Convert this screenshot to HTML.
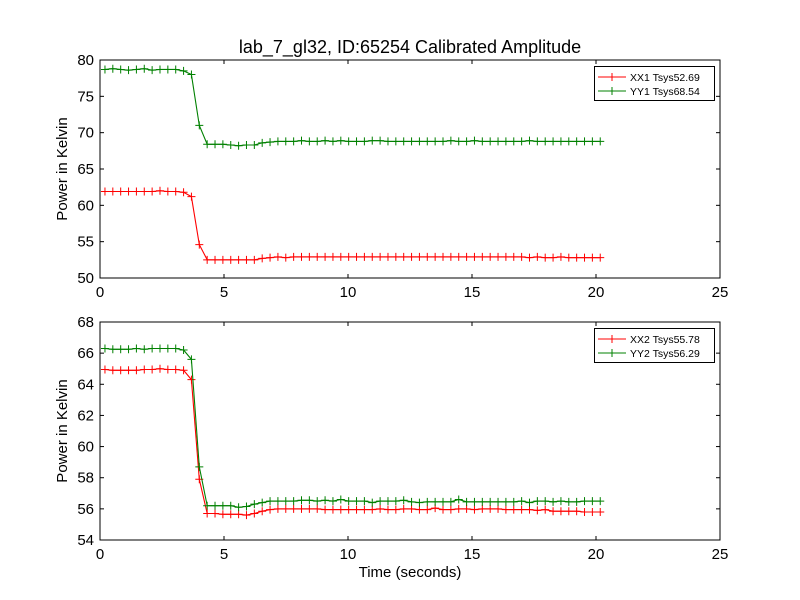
<!DOCTYPE html>
<html><head><meta charset="utf-8"><style>
body{margin:0;background:#fff}
svg{display:block;font-family:"Liberation Sans","DejaVu Sans",sans-serif}
</style></head><body>
<svg id="chart" width="800" height="600" viewBox="0 0 800 600">
<rect width="800" height="600" fill="#fff"/>
<text x="410" y="53" font-size="18" text-anchor="middle">lab_7_gl32, ID:65254 Calibrated Amplitude</text>
<text x="410" y="577" font-size="15" text-anchor="middle">Time (seconds)</text>
</svg>
<script>
const times=[];for(let i=0;i<64;i++)times.push(+(0.2+0.317*i).toFixed(3));
const topXX1=[61.9,61.9,61.9,61.9,61.9,61.9,61.9,62.0,61.9,61.9,61.8,61.2,54.6,52.5,52.5,52.5,52.5,52.5,52.5,52.5,52.7,52.8,52.9,52.8,52.9,52.9,52.9,52.9,52.9,52.9,52.9,52.9,52.9,52.9,52.9,52.9,52.9,52.9,52.9,52.9,52.9,52.9,52.9,52.9,52.9,52.9,52.9,52.9,52.9,52.9,52.9,52.9,52.9,52.9,52.8,52.9,52.8,52.8,52.9,52.8,52.8,52.8,52.8,52.8];
const topYY1=[78.7,78.8,78.7,78.6,78.7,78.8,78.6,78.7,78.7,78.7,78.5,78.0,71.0,68.4,68.4,68.4,68.3,68.2,68.3,68.3,68.6,68.7,68.8,68.8,68.8,68.9,68.8,68.8,68.9,68.8,68.9,68.8,68.8,68.8,68.9,68.9,68.8,68.8,68.8,68.8,68.8,68.8,68.8,68.8,68.9,68.8,68.8,68.9,68.8,68.8,68.8,68.8,68.8,68.8,68.9,68.8,68.8,68.8,68.8,68.8,68.8,68.8,68.8,68.8];
const botXX2=[64.95,64.9,64.9,64.9,64.9,64.95,64.95,65.0,64.95,64.95,64.9,64.3,57.9,55.7,55.7,55.65,55.65,55.65,55.6,55.7,55.85,55.95,56.0,56.0,56.0,56.0,56.0,56.0,55.95,55.95,55.95,55.95,55.95,55.95,55.95,56.0,55.95,55.95,56.0,56.0,55.95,55.95,56.05,55.95,55.95,56.0,56.0,55.95,56.0,56.0,56.0,55.95,55.95,55.95,55.95,55.9,55.95,55.85,55.85,55.85,55.85,55.8,55.8,55.8];
const botYY2=[66.3,66.25,66.25,66.25,66.3,66.25,66.3,66.3,66.3,66.3,66.2,65.6,58.7,56.2,56.2,56.2,56.2,56.1,56.15,56.3,56.4,56.5,56.5,56.5,56.5,56.55,56.55,56.5,56.55,56.5,56.6,56.5,56.5,56.5,56.4,56.5,56.5,56.5,56.55,56.45,56.4,56.45,56.45,56.45,56.45,56.6,56.45,56.45,56.45,56.45,56.45,56.45,56.45,56.5,56.4,56.5,56.5,56.45,56.5,56.45,56.45,56.5,56.5,56.5];
const xTicks=[0,5,10,15,20,25];
const topYTicks=[50,55,60,65,70,75,80];
const botYTicks=[54,56,58,60,62,64,66,68];
const legendTop=["XX1 Tsys52.69","YY1 Tsys68.54"];
const legendBot=["XX2 Tsys55.78","YY2 Tsys56.29"];

const NS="http://www.w3.org/2000/svg";
const svg=document.getElementById('chart');
function mk(tag,attrs,parent){const e=document.createElementNS(NS,tag);for(const k in attrs)e.setAttribute(k,attrs[k]);(parent||svg).appendChild(e);return e;}
function panel(name,top,bottom,ymin,ymax,yTicks,series,labels){
  const L=100,R=720;
  const g=mk('g',{});
  
  
  const sx=v=>L+(v-0)/(25-0)*(R-L);
  const sy=v=>bottom-(v-ymin)/(ymax-ymin)*(bottom-top);
  xTicks.forEach(t=>{const x=sx(t);
    mk('line',{x1:x,x2:x,y1:bottom,y2:bottom-4,stroke:'#000'},g);
    mk('line',{x1:x,x2:x,y1:top,y2:top+4,stroke:'#000'},g);
    const tx=mk('text',{x:x,y:bottom+19,'font-size':15,'text-anchor':'middle'},g);tx.textContent=t;
    
    });
  yTicks.forEach(t=>{const y=sy(t);
    mk('line',{x1:L,x2:L+4,y1:y,y2:y,stroke:'#000'},g);
    mk('line',{x1:R,x2:R-4,y1:y,y2:y,stroke:'#000'},g);
    const tx=mk('text',{x:L-6,y:y+5,'font-size':15,'text-anchor':'end'},g);tx.textContent=t;
    
    });
  const yl=mk('text',{x:0,y:0,'font-size':15,'text-anchor':'middle',transform:`translate(67,${(top+bottom)/2}) rotate(-90)`},g);
  yl.textContent='Power in Kelvin';
  
  
  series.forEach((s,si)=>{
    const col=si===0?'#ff0000':'#008000';
    const pts=s.map((v,i)=>sx(times[i]).toFixed(1)+','+sy(v).toFixed(1)).join(' ');
    const pl=mk('polyline',{points:pts,fill:'none',stroke:col,'stroke-width':1.1},g);
    
    
    s.forEach((v,i)=>{const x=sx(times[i]),y=sy(v);
      const p=mk('path',{d:`M${x-4},${y}H${x+4}M${x},${y-4}V${y+4}`,stroke:col,'stroke-width':1},g);
      
      });
  });
  const fr=mk('rect',{x:L,y:top,width:R-L,height:bottom-top,fill:'none',stroke:'#000','stroke-width':1},g);
  
  
  const lg=mk('g',{},g);
  
  
  mk('rect',{x:594.5,y:top+6.5,width:120,height:34,fill:'#fff',stroke:'#000'},lg);
  labels.forEach((lab,i)=>{const col=i===0?'#ff0000':'#008000';const y=top+17+i*14;
    mk('path',{d:`M598,${y}H626M612,${y-4}V${y+4}`,stroke:col},lg);
    const t=mk('text',{x:630,y:y+4,'font-size':10.5},lg);t.textContent=lab;
    
    });
}
panel('top-panel',60,278,50,80,topYTicks,[topXX1,topYY1],legendTop);
panel('bottom-panel',322,540,54,68,botYTicks,[botXX2,botYY2],legendBot);
</script>
</body></html>
